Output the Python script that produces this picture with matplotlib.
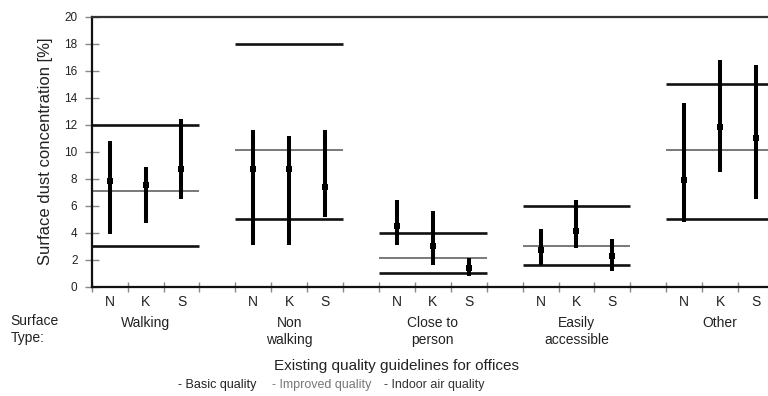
import numpy as np
import matplotlib.pyplot as plt

plt.rcParams['font.family'] = ['Liberation Sans', 'DejaVu Sans']

groups = ['Walking', 'Non\nwalking', 'Close to\nperson', 'Easily\naccessible', 'Other']
subtypes = ['N', 'K', 'S']

# guideline levels per surface type
basic_q = [12.0, 18.0, 4.0, 6.0, 15.0]
improved_q = [7.1, 10.1, 2.1, 3.0, 10.1]
indoor_q = [3.0, 5.0, 1.0, 1.6, 5.0]

# measured values (mean, min, max) per group, order N K S
means = [[7.8, 7.5, 8.7], [8.7, 8.7, 7.4], [4.5, 3.0, 1.4], [2.7, 4.1, 2.3], [7.9, 11.8, 11.0]]
lows = [[3.9, 4.75, 6.5], [3.1, 3.1, 5.2], [3.1, 1.6, 0.8], [1.6, 2.85, 1.2], [4.8, 8.5, 6.5]]
highs = [[10.8, 8.9, 12.4], [11.6, 11.2, 11.6], [6.4, 5.6, 2.1], [4.3, 6.4, 3.5], [13.6, 16.8, 16.4]]

W, H = 768, 396
fig = plt.figure(figsize=(W / 100, H / 100), dpi=100)
ax = fig.add_axes([91.7 / W, 109.3 / H, (774 - 91.7) / W, 270 / H])

for i, g in enumerate(groups):
    x0 = 4 * i
    ax.hlines(basic_q[i], x0, x0 + 3, color='#111111', lw=1.9)
    ax.hlines(improved_q[i], x0, x0 + 3, color='#555555', lw=1.1)
    ax.hlines(indoor_q[i], x0, x0 + 3, color='#111111', lw=1.9)
    xs = x0 + 0.5 + np.arange(3)
    ax.vlines(xs, lows[i], highs[i], color='black', lw=2.9)
    ax.plot(xs, means[i], 's', color='black', ms=4.5, mew=0)
    for j, s in enumerate(subtypes):
        ax.annotate(s, xy=(xs[j], 0), xycoords=('data', 'axes fraction'),
                    xytext=(0, -10.8), textcoords='offset points',
                    ha='center', va='center', fontsize=10, color='#222222')
    ax.annotate(g, xy=(x0 + 1.5, 0), xycoords=('data', 'axes fraction'),
                xytext=(0, -21.0), textcoords='offset points',
                ha='center', va='top', fontsize=10, color='#222222', linespacing=1.25)

ax.set_xlim(0, 19)
ax.set_ylim(0, 20)
ax.set_xticks(np.arange(0, 20))
ax.set_xticklabels([])
ax.set_yticks(np.arange(0, 21, 2))
ax.tick_params(axis='y', direction='inout', length=10.5, width=1.0, color='#888888',
               labelsize=8.5, labelcolor='#222222', pad=5)
ax.tick_params(axis='x', direction='inout', length=6.5, width=1.0, color='#888888')
ax.spines['right'].set_visible(False)
for side in ['left', 'bottom']:
    ax.spines[side].set_linewidth(1.6)
    ax.spines[side].set_color('#111111')
ax.spines['top'].set_linewidth(1.6)
ax.spines['top'].set_color('#333333')
ax.set_ylabel('Surface dust concentration [%]', fontsize=12, color='#222222', labelpad=8)

fig.text(10.7 / W, 1 - 314 / H, 'Surface\nType:', ha='left', va='top', fontsize=10,
         color='#222222', linespacing=1.25)
fig.text(397 / W, 1 - 366 / H, 'Existing quality guidelines for offices', ha='center',
         va='center', fontsize=11, color='#222222')
fig.text(178 / W, 1 - 385 / H, '- Basic quality', ha='left', va='center', fontsize=9, color='#222222')
fig.text(272 / W, 1 - 385 / H, '- Improved quality', ha='left', va='center', fontsize=9, color='#777777')
fig.text(384 / W, 1 - 385 / H, '- Indoor air quality', ha='left', va='center', fontsize=9, color='#333333')

fig.savefig('out.png', dpi=100)
